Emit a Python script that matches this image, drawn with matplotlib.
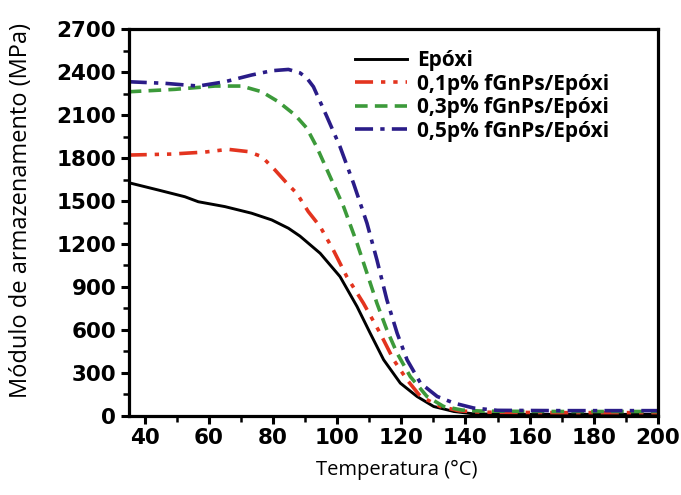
import matplotlib.pyplot as plt
from matplotlib.ticker import MultipleLocator

# storage modulus (MPa) against temperature (°C) for each sample
t_epoxi = [35, 44.2, 52.5, 56.7, 65, 73.3, 79.6, 84.8, 88.4, 94.7, 100.9, 106.2, 110.3,
           114.5, 119.7, 124.9, 130.1, 136.4, 142, 150, 170, 200]
e_epoxi = [1628, 1577, 1530, 1495, 1461, 1415, 1368, 1310, 1255, 1135, 972, 763, 577,
           391, 228, 135, 65, 30, 15, 10, 10, 10]

t_01 = [35, 48.3, 58.8, 66, 72.3, 76.5, 80.6, 84.5, 87.4, 91, 94.7, 98.8, 103, 108.2,
        113.4, 117.6, 121.8, 126, 132.2, 138, 145, 170, 200]
e_01 = [1821, 1828, 1842, 1861, 1845, 1810, 1717, 1620, 1554, 1426, 1321, 1158, 972, 786,
        577, 391, 251, 135, 65, 35, 25, 22, 22]

t_03 = [35, 49.4, 61.9, 70.2, 76.5, 81.7, 86.9, 90.5, 93.6, 97.8, 102, 106.2, 109.3,
        112.4, 115.5, 118.7, 122.8, 128, 133.2, 139, 146, 170, 200]
e_03 = [2263, 2280, 2303, 2303, 2263, 2193, 2100, 2010, 1879, 1670, 1461, 1205, 996,
        786, 600, 437, 274, 135, 65, 40, 32, 30, 30]

t_05 = [35, 46.3, 56.7, 65, 73.3, 79.6, 84.8, 88.4, 90.5, 92.6, 96.8, 100.9, 105.1, 109.3,
        112.4, 115.5, 118.7, 121.8, 126, 131.2, 136.4, 142.6, 150, 170, 200]
e_05 = [2333, 2322, 2303, 2333, 2380, 2410, 2419, 2395, 2360, 2298, 2089, 1879, 1624, 1345,
        1089, 810, 577, 391, 228, 135, 89, 54, 38, 36, 36]

labels = ['Epóxi', '0,1p% fGnPs/Epóxi', '0,3p% fGnPs/Epóxi', '0,5p% fGnPs/Epóxi']

fig = plt.figure(figsize=(6.81, 4.95), dpi=100)
ax = fig.add_axes([0.189, 0.160, 0.777, 0.781])

ax.plot(t_epoxi, e_epoxi, color='black', lw=2.1, ls='-', label=labels[0])
ax.plot(t_01, e_01, color='#e3341f', lw=2.6, ls=(0, (5, 2.2, 1.2, 2.2, 1.2, 2.2)), label=labels[1])
ax.plot(t_03, e_03, color='#3c9a3a', lw=2.6, ls=(0, (3.5, 2)), label=labels[2])
ax.plot(t_05, e_05, color='#2a1c88', lw=2.6, ls=(0, (5, 2, 1.2, 2)), label=labels[3])

ax.set_xlim(35, 200)
ax.set_ylim(0, 2700)
ax.set_xticks(range(40, 201, 20))
ax.xaxis.set_minor_locator(MultipleLocator(10))
ax.yaxis.set_major_locator(MultipleLocator(300))
ax.yaxis.set_minor_locator(MultipleLocator(150))

for s in ax.spines.values():
    s.set_linewidth(2.3)
ax.tick_params(which='major', direction='out', length=6, width=2.2, pad=3)
ax.tick_params(which='minor', direction='out', length=4, width=1.8)
for lab in ax.get_xticklabels() + ax.get_yticklabels():
    lab.set_family('DejaVu Sans')
    lab.set_fontweight('bold')
    lab.set_fontsize(15.5)

ax.set_xlabel('Temperatura (°C)', family='Open Sans', fontsize=14.5)
ax.set_ylabel('Módulo de armazenamento (MPa)', family='Open Sans', fontsize=17)
ax.xaxis.set_label_coords(0.507, -0.115)
ax.yaxis.set_label_coords(-0.18, 0.53)

ax.legend(loc='upper left', bbox_to_anchor=(0.427, 0.946), frameon=False,
          borderpad=0, borderaxespad=0, handlelength=2.5, handletextpad=0.5,
          labelspacing=0.12, prop={'family': 'Open Sans', 'weight': 'bold', 'size': 15})

fig.savefig('out.png', dpi=100)
